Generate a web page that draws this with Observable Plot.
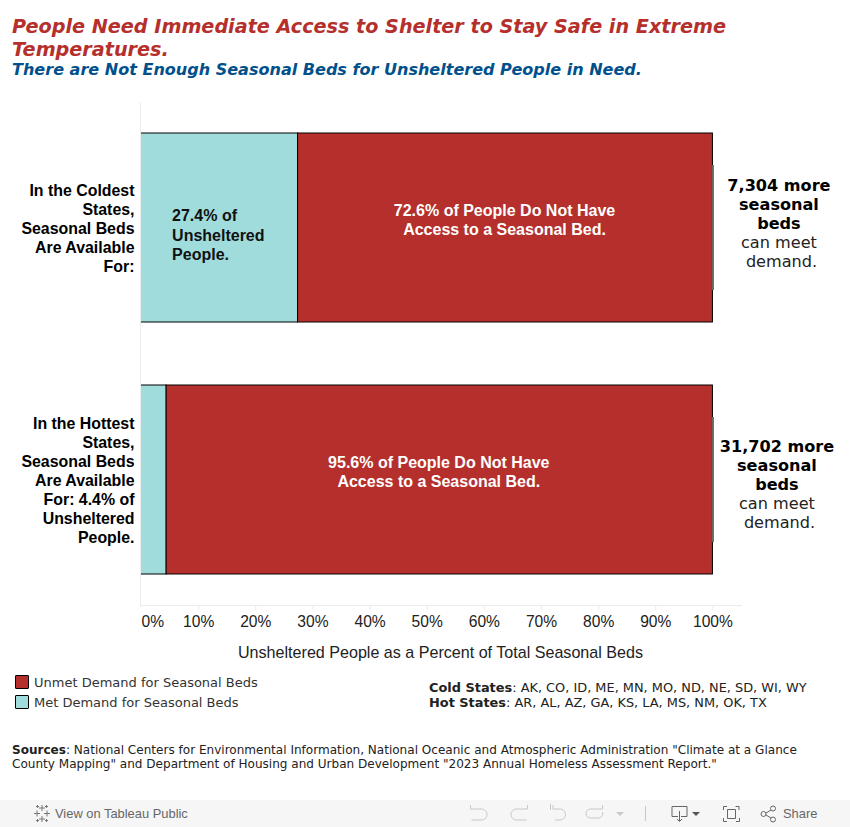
<!DOCTYPE html>
<html>
<head>
<meta charset="utf-8">
<script src="https://cdn.jsdelivr.net/npm/d3@7"></script>
<script src="https://cdn.jsdelivr.net/npm/@observablehq/plot@0.6"></script>
<style>
html,body{margin:0;padding:0;background:#fff;width:850px;height:827px;overflow:hidden}
body{position:relative;font-family:"DejaVu Sans",sans-serif}
.abs{position:absolute;white-space:nowrap}
#chart{position:absolute;left:0;top:0}
#chart svg{display:block}
.t1{left:12px;top:15px;font:italic bold 19.2px/23px "DejaVu Sans";color:#b5302c}
.t2{left:12px;top:60px;font:italic bold 16.05px/19px "DejaVu Sans";color:#00508c}
.xt{left:0;width:881px;top:643px;text-align:center;font:16.1px/18px "Liberation Sans";color:#222}
.lg{font:13px/20px "DejaVu Sans";color:#333}
.sw{position:absolute;width:12px;height:12px;border:1px solid #000;border-radius:1px}
.st{left:429px;top:680px;font:12.9px/15px "DejaVu Sans";color:#222}
.src{left:12px;top:743px;font:12.05px/14px "DejaVu Sans";color:#222}
#bar{position:absolute;left:0;top:800px;width:850px;height:27px;background:#f6f6f6}
#bar span{position:absolute;top:6px;font:12.9px/16px "Liberation Sans";color:#666}
</style>
</head>
<body>
<div id="chart"></div>
<div class="abs t1">People Need Immediate Access to Shelter to Stay Safe in Extreme<br>Temperatures.</div>
<div class="abs t2">There are Not Enough Seasonal Beds for Unsheltered People in Need.</div>
<div class="abs xt">Unsheltered People as a Percent of Total Seasonal Beds</div>
<div class="sw" style="left:15px;top:675px;background:#b5302c"></div>
<div class="sw" style="left:15px;top:695px;background:#a0dcdc"></div>
<div class="abs lg" style="left:34px;top:673px">Unmet Demand for Seasonal Beds</div>
<div class="abs lg" style="left:34px;top:693px">Met Demand for Seasonal Beds</div>
<div class="abs st"><b>Cold States</b>: AK, CO, ID, ME, MN, MO, ND, NE, SD, WI, WY<br><b>Hot States</b>: AR, AL, AZ, GA, KS, LA, MS, NM, OK, TX</div>
<div class="abs src"><b>Sources</b>: National Centers for Environmental Information, National Oceanic and Atmospheric Administration "Climate at a Glance<br>County Mapping" and Department of Housing and Urban Development "2023 Annual Homeless Assessment Report."</div>
<div id="bar">
<svg width="850" height="27" style="position:absolute;left:0;top:0" fill="none" stroke-width="1">
<path stroke="#777" d="M42 5v6M39 8h6M42 16v6M39 19h6M34 13.500h6M37 10.500v6M44 13.500h6M47 10.500v6M36 6.500h3M37.500 5v3M45 6.500h3M46.500 5v3M36 20.500h3M37.500 19v3M45 20.500h3M46.500 19v3"/>
<g stroke="#c8c8c8">
<path d="M470.500 5v4h11a4.500 4.500 0 0 1 0 11h-10"/>
<path d="M527.500 5v4h-11a4.500 4.500 0 0 0 0 11h10"/>
<path d="M550.500 4v6M553 5v4h7a5.500 5.500 0 0 1 0 11h-5"/>
<path d="M602.500 5v4h-12a4.500 4.500 0 0 0 0 9h8a4.500 4.500 0 0 0 4-6"/>
<path d="M645.500 6v15"/>
</g>
<path d="M616 12h8l-4 4z" fill="#c8c8c8"/>
<g stroke="#666">
<path d="M678 16.500h-6V6.500h15v10h-6M679.500 11v10M677 19l2.500 2.500 2.500-2.500"/>
<path d="M723.500 10V6.500h3.500M735.500 6.500h3.500V10M739.500 18v3.500H736M727 21.500h-3.500V18M727.500 9.500h8v9h-8z"/>
<circle cx="763.500" cy="14" r="2.500"/><circle cx="773" cy="8.500" r="2.500"/><circle cx="773" cy="19.500" r="2.500"/><path d="M766 13l5-3M766 15l5 3"/>
</g>
<path d="M692 12h8l-4 4z" fill="#555"/>
</svg>
<span style="left:55px">View on Tableau Public</span>
<span style="left:783px">Share</span>
</div>
<script>
const categories = ["cold", "hot"];
const categoryLabels = [
  "In the Coldest\nStates,\nSeasonal Beds\nAre Available\nFor:",
  "In the Hottest\nStates,\nSeasonal Beds\nAre Available\nFor: 4.4% of\nUnsheltered\nPeople."
];
const metDemand = [27.4, 4.4];
const unmetDemand = [72.6, 95.6];
const bedsBold = ["7,304 more\nseasonal\nbeds\n\n", "31,702 more\nseasonal\nbeds\n\n"];
const bedsPlain = "\n\n\ncan meet\n demand.";
const metLabel = "27.4% of\nUnsheltered\nPeople.";
const unmetLabels = [
  "72.6% of People Do Not Have\nAccess to a Seasonal Bed.",
  "95.6% of People Do Not Have\nAccess to a Seasonal Bed."
];
const xTicks = [10, 20, 30, 40, 50, 60, 70, 80, 90, 100];
const red = "#b5302c", teal = "#a0dcdc";

const rows = categories.map((c, i) => ({
  c, met: metDemand[i], unmet: unmetDemand[i],
  label: categoryLabels[i], bold: bedsBold[i], unmetLabel: unmetLabels[i]
}));
const arial = "Liberation Sans, Arial, sans-serif";
const dejavu = "DejaVu Sans, sans-serif";
const sideText = (row, dx, dy) => [
  Plot.text([row], {y: "c", x: () => 100, dx, dy, text: "bold", lineHeight: 1.18,
    fontFamily: dejavu, fontWeight: "bold", fontSize: 16.1, fill: "#000"}),
  Plot.text([row], {y: "c", x: () => 100, dx, dy, text: () => bedsPlain, lineHeight: 1.18,
    fontFamily: dejavu, fontSize: 16.1, fill: "#222"})
];

const plot = Plot.plot({
  width: 850, height: 827,
  marginLeft: 141, marginRight: 109, marginTop: 102, marginBottom: 222,
  style: {background: "transparent"},
  x: {domain: [0, 105], axis: null},
  y: {domain: categories, paddingInner: 0.25, paddingOuter: 0.123, axis: null},
  marks: [
    Plot.frame({anchor: "left", stroke: "#ececec", dx: -1}),
    Plot.frame({anchor: "bottom", stroke: "#ececec"}),
    Plot.barX(rows, {y: "c", x1: 0, x2: "met", insetLeft: -4, clip: true, fill: teal, stroke: "#000", strokeWidth: 1}),
    Plot.barX(rows, {y: "c", x1: "met", x2: 100, fill: red, stroke: "#000", strokeWidth: 1}),
    Plot.tickX(rows, {y: "c", x: () => 100, stroke: "#666", strokeWidth: 2, insetTop: 32, insetBottom: 32}),
    Plot.text(rows, {y: "c", x: 0, dx: -7, text: "label", textAnchor: "end", lineHeight: 1.19,
      fontFamily: arial, fontWeight: "bold", fontSize: 15.9, fill: "#000"}),
    Plot.text(rows.slice(0, 1), {y: "c", x: "met", dx: -126, dy: 6.5, text: () => metLabel, textAnchor: "start", lineHeight: 1.22,
      fontFamily: arial, fontWeight: "bold", fontSize: 16, fill: "#111"}),
    Plot.text(rows, {y: "c", x: d => d.met + d.unmet / 2, dx: -1, dy: -8.5, text: "unmetLabel", lineHeight: 1.16,
      fontFamily: arial, fontWeight: "bold", fontSize: 16, fill: "#fff"}),
    ...sideText(rows[0], 66, -5),
    ...sideText(rows[1], 64, 4),
    Plot.axisX({ticks: xTicks, tickSize: 5, tickPadding: 5, stroke: "#ececec", color: "#222", tickFormat: d => d + "%",
      fontFamily: arial, fontSize: 15.6, anchor: "bottom", textStroke: "none"}),
    Plot.text([0], {x: d => d, text: d => d + "%", frameAnchor: "bottom", dy: 21, textAnchor: "start",
      fontFamily: arial, fontSize: 15.6, fill: "#222"})
  ]
});
document.getElementById("chart").append(plot);
</script>
</body>
</html>
